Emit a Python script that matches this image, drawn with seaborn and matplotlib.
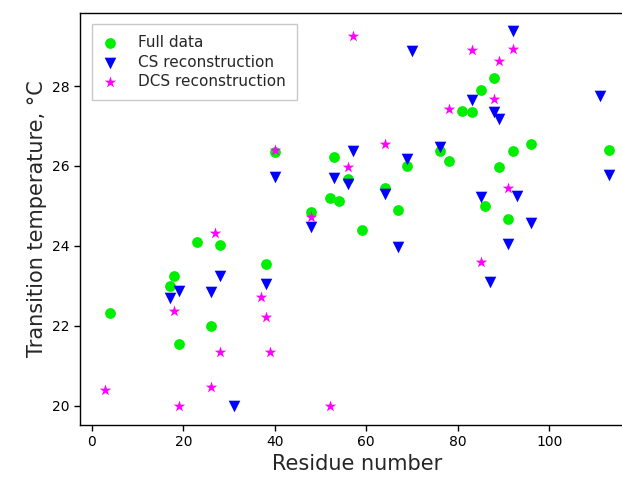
import matplotlib
matplotlib.use("Agg")
import matplotlib.pyplot as plt
import seaborn as sns
import pandas as pd

full_x = [4, 17, 18, 19, 23, 26, 28, 38, 40, 48, 52, 53, 54, 56, 59, 64, 67, 69,
          76, 78, 81, 83, 85, 86, 88, 89, 91, 92, 96, 113]
full_y = [22.32, 23.0, 23.25, 21.55, 24.1, 22.0, 24.02, 23.55, 26.35, 24.85, 25.2,
          26.22, 25.12, 25.67, 24.4, 25.45, 24.9, 26.0, 26.37, 26.12, 27.37, 27.35,
          27.9, 25.0, 28.2, 25.97, 24.68, 26.37, 26.55, 26.4]

cs_x = [17, 19, 26, 28, 31, 38, 40, 48, 53, 56, 57, 64, 67, 69, 70, 76, 83, 85,
        87, 88, 89, 91, 92, 93, 96, 111, 113]
cs_y = [22.7, 22.88, 22.85, 23.25, 20.0, 23.05, 25.72, 24.47, 25.7, 25.55, 26.37,
        25.3, 23.97, 26.17, 28.87, 26.48, 27.65, 25.22, 23.1, 27.35, 27.17, 24.05,
        29.37, 25.25, 24.57, 27.75, 25.77]

dcs_x = [3, 18, 19, 26, 27, 28, 37, 38, 39, 40, 48, 52, 56, 57, 64, 78, 83, 85,
         88, 89, 91, 92]
dcs_y = [20.4, 22.38, 20.0, 20.47, 24.33, 21.35, 22.73, 22.22, 21.35, 26.4, 24.72,
         20.0, 25.97, 29.25, 26.55, 27.42, 28.9, 23.6, 27.68, 28.62, 25.45, 28.92]

labels = ["Full data", "CS reconstruction", "DCS reconstruction"]

sns.set_style("white")
plt.rcParams['font.family'] = ['DejaVu Sans']

fig = plt.figure(figsize=(6.22, 4.78), dpi=100)
W, H = 622, 478
ax = fig.add_axes([80.3 / W, (H - 424.5) / H, (634 - 80.3) / W, (424.5 - 12.5) / H])

df_full = pd.DataFrame({"x": full_x, "y": full_y})
df_cs = pd.DataFrame({"x": cs_x, "y": cs_y})
df_dcs = pd.DataFrame({"x": dcs_x, "y": dcs_y})

sns.scatterplot(data=df_full, x="x", y="y", ax=ax, marker="o", color="#00ee00",
                s=60, linewidth=0, label=labels[0])
sns.scatterplot(data=df_cs, x="x", y="y", ax=ax, marker="v", color="#0000ff",
                s=70, linewidth=0, label=labels[1])
sns.scatterplot(data=df_dcs, x="x", y="y", ax=ax, marker="*", color="#ff00ff",
                s=75, linewidth=0, label=labels[2])

ax.set_xlim(-2.5, 118.5)
ax.set_ylim(19.53, 29.84)
ax.set_xticks([0, 20, 40, 60, 80, 100])
ax.set_yticks([20, 22, 24, 26, 28])
ax.tick_params(axis='both', which='both', direction='out', length=4, width=1,
               labelsize=10, left=True, bottom=True, colors='black')
for sp in ax.spines.values():
    sp.set_color('black')
    sp.set_linewidth(1.0)

ax.set_xlabel("Residue number", fontsize=15)
ax.set_ylabel("Transition temperature, °C", fontsize=15)

leg = ax.legend(loc="upper left", fontsize=11, frameon=True, fancybox=False,
                edgecolor="#bbbbbb", borderpad=0.7, labelspacing=0.32,
                handlelength=1.0, handletextpad=1.35, borderaxespad=0.75)
leg.get_frame().set_linewidth(1.0)

fig.savefig("out.png", dpi=100)
